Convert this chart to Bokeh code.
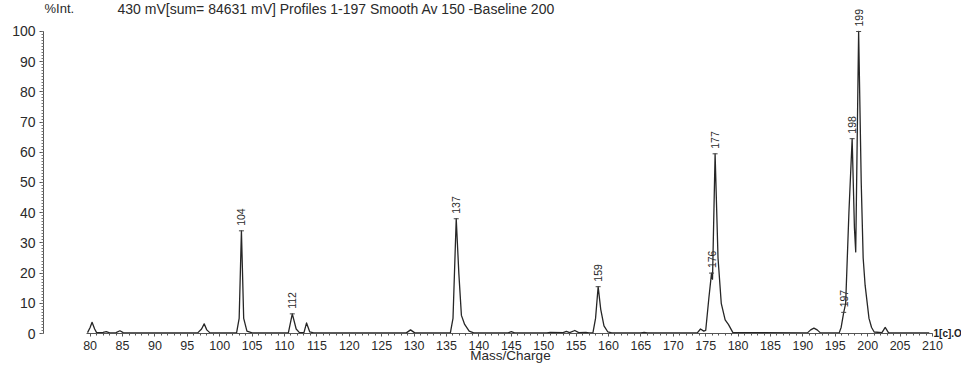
import math
from bokeh.plotting import figure
from bokeh.models import Range1d, FixedTicker, Label
from bokeh.core.properties import value
from bokeh.embed import file_html
from bokeh.resources import INLINE

# ---- data ----
mz = [79.6, 80.0, 80.3, 80.7, 81.0, 82.0, 82.5, 83.0, 84.0, 84.6, 85.1, 86.0,
      96.6, 97.2, 97.6, 98.0, 98.5,
      102.6, 103.0, 103.35, 103.7, 104.2, 105.0,
      110.6, 111.2, 111.8, 112.3, 113.0, 113.4, 113.9, 114.5,
      128.8, 129.45, 130.1,
      135.6, 136.0, 136.5, 136.9, 137.3, 137.8, 138.5, 139.2,
      144.5, 145.0, 145.5, 150.5, 151.0, 153.0, 153.5, 154.0, 154.8, 155.4, 156.5, 157.0,
      157.6, 158.0, 158.4, 158.8, 159.3, 159.9, 160.5,
      165.0, 165.5, 166.0,
      173.7, 174.2, 174.7, 175.0, 175.5, 175.9, 176.05, 176.45, 176.9, 177.4, 178.0, 178.5, 179.2,
      190.7, 191.2, 191.7, 192.2, 192.7,
      195.6, 195.9, 196.3, 196.6, 197.1, 197.6, 197.95, 198.15, 198.6, 199.0, 199.3, 199.6, 200.2, 200.6, 201.0,
      202.2, 202.7, 203.2, 204.0, 209.5]
intensity = [0.3, 2.0, 3.7, 1.5, 0.3, 0.4, 0.6, 0.2, 0.3, 0.9, 0.3, 0.2,
             0.2, 1.5, 3.2, 1.2, 0.2,
             0.2, 5.0, 34.0, 5.0, 0.8, 0.2,
             0.3, 6.5, 1.5, 0.3, 0.3, 3.5, 0.5, 0.2,
             0.2, 1.2, 0.2,
             0.3, 5.0, 38.0, 20.0, 6.0, 3.0, 0.8, 0.2,
             0.2, 0.6, 0.2, 0.2, 0.4, 0.3, 0.7, 0.3, 1.0, 0.3, 0.4, 0.2,
             0.3, 5.0, 15.5, 8.0, 2.5, 0.5, 0.2,
             0.2, 0.4, 0.2,
             0.2, 1.5, 0.8, 1.0, 12.0, 20.0, 18.0, 59.5, 25.0, 10.0, 4.5, 3.0, 0.3,
             0.2, 1.2, 1.8, 1.2, 0.2,
             0.2, 2.0, 7.0, 10.0, 40.0, 64.5, 35.0, 27.0, 100.0, 50.0, 25.0, 16.0, 5.0, 2.0, 0.5,
             0.3, 2.0, 0.3, 0.2, 0.2]

peak_mz = [103.35, 111.2, 136.5, 158.4, 175.9, 176.45, 196.3, 197.6, 198.6]
peak_int = [34.0, 6.5, 38.0, 15.5, 20.0, 59.5, 7.0, 64.5, 100.0]
peak_text = ["104", "112", "137", "159", "176", "177", "197", "198", "199"]

x_ticks = list(range(80, 211, 5))
x_minor = list(range(80, 211, 1))
y_ticks = list(range(0, 101, 10))
y_minor = list(range(0, 101, 1))

title_text = "430 mV[sum= 84631 mV]  Profiles 1-197 Smooth Av 150 -Baseline 200"
x_title = "\u00a0" * 12 + "Mass/Charge"
FONT = "Liberation Sans"
TXT = "#2a2a2a"

# frame: canvas x 43..932, y 0..333
p = figure(width=961, height=365, output_backend="svg", toolbar_location=None,
           x_range=Range1d(72.805, 210.0), y_range=Range1d(0, 110.26),
           min_border_left=43, min_border_right=29, min_border_top=0,
           min_border_bottom=32)
p.outline_line_color = None
p.grid.visible = False
p.background_fill_color = "white"
p.border_fill_color = "white"

# x axis
xa = p.xaxis[0]
xa.ticker = FixedTicker(ticks=x_ticks, minor_ticks=x_minor)
xa.bounds = (79.5, 210)
xa.axis_line_color = "#555555"
xa.major_tick_line_color = "#555555"
xa.minor_tick_line_color = "#555555"
xa.major_tick_out = 3
xa.major_tick_in = 0
xa.minor_tick_out = 2
xa.minor_tick_in = 0
xa.major_label_standoff = 4
xa.major_label_text_font = FONT
xa.major_label_text_font_size = "12.5px"
xa.major_label_text_color = TXT
xa.axis_label = x_title
xa.axis_label_standoff = -5
xa.axis_label_text_font = FONT
xa.axis_label_text_font_size = "13.5px"
xa.axis_label_text_font_style = "normal"
xa.axis_label_text_color = TXT

# y axis
ya = p.yaxis[0]
ya.ticker = FixedTicker(ticks=y_ticks, minor_ticks=y_minor)
ya.bounds = (0, 100)
ya.axis_line_color = "#555555"
ya.major_tick_line_color = "#555555"
ya.minor_tick_line_color = "#777777"
ya.major_tick_out = 4
ya.major_tick_in = 0
ya.minor_tick_out = 2
ya.minor_tick_in = 0
ya.major_label_standoff = 4
ya.major_label_text_font = FONT
ya.major_label_text_font_size = "14px"
ya.major_label_text_color = TXT

# spectrum
p.line(mz, intensity, line_color="#262626", line_width=1.3, line_join="round")

# peak labels
p.text(x=peak_mz, y=peak_int, text=peak_text, angle=math.pi / 2,
       text_align="left", text_baseline="middle", y_offset=-5,
       text_font=value(FONT), text_font_size="10.5px", text_color=TXT)
p.scatter(x=peak_mz, y=peak_int, marker="dash", size=5, line_color="#444444",
          line_width=1)

# texts inside the frame
p.add_layout(Label(x=1, y=325, x_units="screen", y_units="screen", text="%Int.",
                   text_font=FONT, text_font_size="13px", text_color=TXT,
                   text_baseline="middle"))
p.add_layout(Label(x=74, y=325, x_units="screen", y_units="screen", text=title_text,
                   text_font=FONT, text_font_size="14px", text_color=TXT,
                   text_baseline="middle"))
# trace name at the right end of the axis (right side panel)
p.add_layout(Label(x=1, y=0, x_units="screen", y_units="screen", text="1[c].O",
                   text_font=FONT, text_font_size="10px", text_font_style="bold",
                   text_color="#222222", text_baseline="middle"), "right")

open("out.html", "w").write(file_html(p, INLINE))
